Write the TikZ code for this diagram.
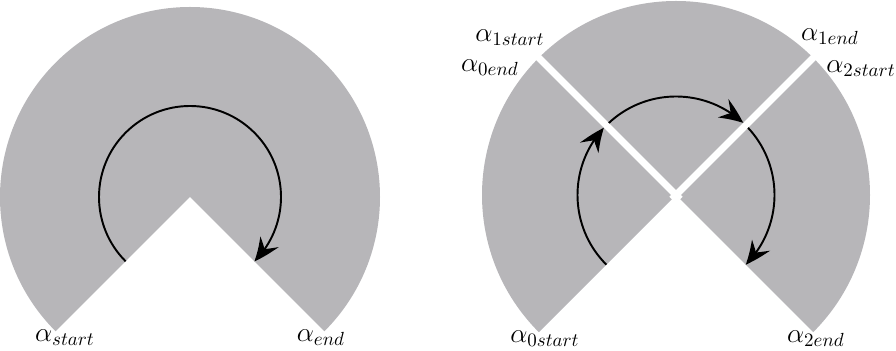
\documentclass[tikz,border=0pt]{standalone}
\usepackage{amsmath,amssymb}
\usetikzlibrary{arrows.meta,positioning,calc,bending}
\definecolor{sectorgray}{RGB}{183,182,185}

\begin{document}
\begin{tikzpicture}[sector/.style={fill=sectorgray}, gap/.style={draw=white, line width=0.14cm}, turn/.style={line width=1.1pt, -{Stealth[length=0.5cm, width=0.42cm, inset=0.18cm, bend]}}, lbl/.style={font=\Large, transform shape, scale=1.08, inner sep=1pt}]
\useasboundingbox (0,0) rectangle (17.92,7.02);
\coordinate (cL) at (3.8,3.08);
\coordinate (cR) at (13.52,3.12);
% left: one sector
\fill[sector] (cL) -- ++(225:3.8) arc[start angle=225, end angle=-45, radius=3.8] -- cycle;
\draw[turn] ($(cL)+(225:1.82)$) arc[start angle=225, end angle=-45, radius=1.82];
\node[lbl] (as) at (1.30,0.26) {$\alpha_{start}$};
\node[lbl] (ae) at (6.42,0.26) {$\alpha_{end}$};
% right: three sectors
\fill[sector] (cR) -- ++(225:3.88) arc[start angle=225, end angle=-45, radius=3.88] -- cycle;
\draw[gap] ($(cR)+(-45:0.12)$) -- ++(135:4.1);
\draw[gap] ($(cR)+(225:0.12)$) -- ++(45:4.1);
\draw[turn] ($(cR)+(225:1.97)$) arc[start angle=225, end angle=137, radius=1.97];
\draw[turn] ($(cR)+(133:1.97)$) arc[start angle=133, end angle=47, radius=1.97];
\draw[turn] ($(cR)+(43:1.97)$) arc[start angle=43, end angle=-45, radius=1.97];
\node[lbl] (a1s) at (10.2,6.26) {$\alpha_{1start}$};
\node[lbl] (a0e) at (9.8,5.66) {$\alpha_{0end}$};
\node[lbl] (a1e) at (16.6,6.28) {$\alpha_{1end}$};
\node[lbl] (a2s) at (17.22,5.64) {$\alpha_{2start}$};
\node[lbl] (a0s) at (10.9,0.24) {$\alpha_{0start}$};
\node[lbl] (a2e) at (16.32,0.24) {$\alpha_{2end}$};
\end{tikzpicture}
\end{document}
